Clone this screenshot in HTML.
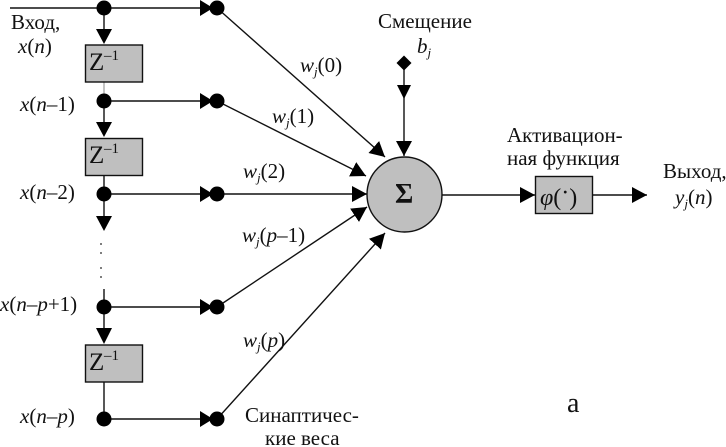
<!DOCTYPE html>
<html><head><meta charset="utf-8"><style>
html,body{margin:0;padding:0;background:#fff;width:726px;height:447px;overflow:hidden}
svg{display:block}
text{font-family:"Liberation Serif",serif;font-size:21px;fill:#111}
.i{font-style:italic}
.s{font-size:13px}
</style></head><body>
<svg width="726" height="447" viewBox="0 0 726 447" xmlns="http://www.w3.org/2000/svg">
<defs>
<marker id="a" markerUnits="userSpaceOnUse" markerWidth="16" markerHeight="16" refX="15" refY="8" orient="auto"><path d="M0 0L15 8L0 16Z" fill="#000"/></marker>
</defs>
<g stroke="#111" stroke-width="1.4" fill="none">
<path d="M10 8H200M104 8V30M104 101V123M104 175V217M104 289V329M104 382V419M104 101H200M104 194H200M104 307H200M104 419H200"/>
<path d="M104 82V101" stroke="#888" stroke-width="1"/>
<path d="M217 8L385 157" marker-end="url(#a)"/>
<path d="M217 101L366 176" marker-end="url(#a)"/>
<path d="M217 194H367" marker-end="url(#a)"/>
<path d="M217 307L367 207" marker-end="url(#a)"/>
<path d="M217 419L385 233" marker-end="url(#a)"/>
<path d="M404 63V156" marker-end="url(#a)"/>
<path d="M442 195H535" marker-end="url(#a)"/>
<path d="M592 195H647" marker-end="url(#a)"/>
</g>
<g fill="#000">
<path d="M96 29H112L104 44ZM96 122H112L104 137ZM96 216H112L104 231ZM96 328H112L104 344Z"/>
<path d="M200 0L213 8L200 16ZM200 93L213 101L200 109ZM200 186L213 194L200 202ZM200 299L213 307L200 315ZM200 411L213 419L200 427Z"/>
<path d="M397 85H411L404 99Z"/>
<path d="M404 55.5L411.5 63L404 70.5L396.500 63Z"/>
<circle cx="104" cy="8" r="7.500"/><circle cx="104" cy="101" r="7.500"/><circle cx="104" cy="194" r="7.500"/><circle cx="104" cy="307" r="7.500"/><circle cx="104" cy="419" r="7.500"/>
<circle cx="217" cy="8" r="7.500"/><circle cx="217" cy="101" r="7.500"/><circle cx="217" cy="194" r="7.500"/><circle cx="217" cy="307" r="7.500"/><circle cx="217" cy="419" r="7.500"/>
</g>
<g fill="#bfbfbf" stroke="#111" stroke-width="1.400">
<rect x="85.500" y="45" width="57" height="37"/>
<rect x="85.500" y="138.500" width="57" height="37"/>
<rect x="85.500" y="345" width="57" height="37"/>
<rect x="535.500" y="176.500" width="57" height="37"/>
<circle cx="404.500" cy="194.500" r="37.500"/>
</g>
<g fill="#222">
<circle cx="101" cy="244" r=".9"/><circle cx="101" cy="253" r=".9"/><circle cx="101" cy="268" r=".9"/><circle cx="101" cy="277" r=".9"/>
</g>

<text x="11" y="29">Вход,</text>
<text x="18" y="53"><tspan class="i">x</tspan>(<tspan class="i">n</tspan>)</text>
<text x="20" y="111"><tspan class="i">x</tspan>(<tspan class="i">n</tspan>–1)</text>
<text x="20" y="199"><tspan class="i">x</tspan>(<tspan class="i">n</tspan>–2)</text>
<text x="0" y="311"><tspan class="i">x</tspan>(<tspan class="i">n</tspan>–<tspan class="i">p</tspan>+1)</text>
<text x="20" y="423"><tspan class="i">x</tspan>(<tspan class="i">n</tspan>–<tspan class="i">p</tspan>)</text>

<text x="89" y="70" style="font-size:25px">Z</text><text x="104" y="60" style="font-size:15px">–1</text>
<text x="89" y="163" style="font-size:25px">Z</text><text x="104" y="153" style="font-size:15px">–1</text>
<text x="89" y="370" style="font-size:25px">Z</text><text x="104" y="360" style="font-size:15px">–1</text>

<text x="300" y="72"><tspan class="i">w</tspan><tspan class="i s" dy="4">j</tspan><tspan dy="-4">(0)</tspan></text>
<text x="272" y="123"><tspan class="i">w</tspan><tspan class="i s" dy="4">j</tspan><tspan dy="-4">(1)</tspan></text>
<text x="243" y="178"><tspan class="i">w</tspan><tspan class="i s" dy="4">j</tspan><tspan dy="-4">(2)</tspan></text>
<text x="242" y="242"><tspan class="i">w</tspan><tspan class="i s" dy="4">j</tspan><tspan dy="-4">(</tspan><tspan class="i">p</tspan>–1)</text>
<text x="243" y="347"><tspan class="i">w</tspan><tspan class="i s" dy="4">j</tspan><tspan dy="-4">(</tspan><tspan class="i">p</tspan>)</text>

<text x="378" y="28">Смещение</text>
<text x="417" y="53" class="i">b<tspan class="s" dy="4">j</tspan></text>
<text x="395" y="203" style="font-size:28px;font-weight:bold">Σ</text>
<text x="507" y="142">Активацион-</text>
<text x="507" y="165">ная функция</text>
<text x="540" y="205" style="font-size:24px"><tspan class="i">φ</tspan>(<tspan dy="-5">·</tspan><tspan dy="5">)</tspan></text>
<text x="663" y="178">Выход,</text>
<text x="675" y="204"><tspan class="i">y</tspan><tspan class="i s" dy="4">j</tspan><tspan dy="-4">(</tspan><tspan class="i">n</tspan>)</text>
<text x="245" y="422">Синаптичес-</text>
<text x="265" y="445">кие веса</text>
<text x="567" y="412" style="font-size:28px">а</text>
</svg>
</body></html>
